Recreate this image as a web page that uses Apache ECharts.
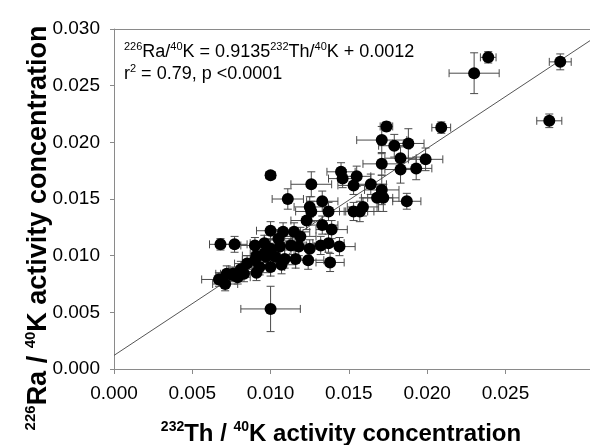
<!DOCTYPE html>
<html>
<head>
<meta charset="utf-8">
<script src="https://cdn.jsdelivr.net/npm/echarts@6/dist/echarts.min.js"></script>
<style>
html,body{margin:0;padding:0;background:#fff;}
#c{width:590px;height:445px;}
</style>
</head>
<body>
<div id="c"></div>
<script>
// 232Th/40K ratio (x), 226Ra/40K ratio (y) and their uncertainties
const thK = [0.0239,0.0230,0.0285,0.0278,0.0209,0.0174,0.0171,0.0179,0.0188,0.0183,0.0199,0.0171,0.0183,0.0193,0.0187,0.0100,0.0111,0.0126,0.0133,0.0125,0.0126,0.0137,0.0123,0.0145,0.0146,0.0155,0.0153,0.0164,0.0171,0.0168,0.0172,0.0153,0.0157,0.0159,0.0133,0.0139,
  0.0068,0.0077,0.0067,0.0071,0.0072,0.0076,0.0079,0.0100,
  0.0083,0.0085,0.0091,0.0090,0.0096,0.0100,0.0107,0.0100,0.0108,0.0115,0.0119,0.0105,0.0096,0.0090,0.0100,0.0106,0.0113,0.0118,0.0125,0.0132,0.0137,0.0144,0.0091,0.0097,0.0103,0.0109,0.0116,0.0124,0.0138,0.0093,0.0081,0.0076];
const raK = [0.0275,0.0261,0.0271,0.0219,0.0213,0.0214,0.0202,0.0197,0.0199,0.0186,0.0185,0.0181,0.0176,0.0177,0.0148,0.0171,0.0150,0.0163,0.0148,0.0143,0.0139,0.0139,0.0131,0.0174,0.0168,0.0170,0.0162,0.0163,0.0158,0.0151,0.0151,0.0139,0.0139,0.0143,0.0127,0.0123,
  0.0110,0.0110,0.0079,0.0075,0.0084,0.0084,0.0081,0.0053,
  0.0084,0.0093,0.0085,0.0096,0.0102,0.0090,0.0092,0.0122,0.0121,0.0121,0.0117,0.0115,0.0111,0.0109,0.0106,0.0108,0.0109,0.0108,0.0106,0.0109,0.0111,0.0108,0.0100,0.0099,0.0099,0.0097,0.0097,0.0096,0.0094,0.0090,0.0088,0.0083];
const thErr = [0.0005,0.0016,0.0007,0.0008,0.0006,0.0004,0.0016,0.0010,0.0010,0.0010,0.0011,0.0012,0.0010,0.0010,0.0009,0.0003,0.0010,0.0013,0.0010,0.0010,0.0010,0.0010,0.0010,0.0009,0.0009,0.0009,0.0010,0.0010,0.0011,0.0010,0.0010,0.0009,0.0009,0.0010,0.0010,0.0010,
  0.0007,0.0008,0.0011,0.0008,0.0007,0.0008,0.0008,0.0019,
  0.0008,0.0008,0.0009,0.0008,0.0009,0.0009,0.0009,0.0009,0.0009,0.0010,0.0010,0.0009,0.0009,0.0009,0.0009,0.0009,0.0010,0.0010,0.0010,0.0010,0.0010,0.0010,0.0009,0.0009,0.0009,0.0009,0.0010,0.0010,0.0009,0.0009,0.0008,0.0008];
const raErr = [0.0005,0.0018,0.0007,0.0006,0.0005,0.0004,0.0012,0.0010,0.0013,0.0010,0.0010,0.0010,0.0012,0.0010,0.0007,0.0003,0.0009,0.0011,0.0009,0.0009,0.0009,0.0008,0.0008,0.0008,0.0008,0.0009,0.0008,0.0009,0.0013,0.0012,0.0012,0.0008,0.0009,0.0008,0.0008,0.0008,
  0.0005,0.0007,0.0006,0.0006,0.0007,0.0006,0.0006,0.0020,
  0.0007,0.0007,0.0007,0.0007,0.0008,0.0008,0.0008,0.0008,0.0008,0.0008,0.0008,0.0008,0.0007,0.0007,0.0008,0.0008,0.0008,0.0008,0.0008,0.0008,0.0008,0.0008,0.0007,0.0007,0.0008,0.0008,0.0008,0.0008,0.0008,0.0007,0.0007,0.0006];
const xTicks = [0.000,0.005,0.010,0.015,0.020,0.025];
const yTicks = [0.000,0.005,0.010,0.015,0.020,0.025,0.030];
const fitSlope = 0.9135;
const fitIntercept = 0.0012;
const xMin = 0, xMax = 0.0304, yMin = 0, yMax = 0.030;

const pts = thK.map((x,i)=>[x, raK[i]]);
const errRows = thK.map((x,i)=>[x, raK[i], thErr[i], raErr[i]]);
const fitLine = [[xMin, fitSlope*xMin+fitIntercept],[xMax, fitSlope*xMax+fitIntercept]];

const FONT = '"Liberation Sans", Arial, sans-serif';
const chart = echarts.init(document.getElementById('c'));
const axisGray = '#8a8a8a';
const barColor = '#4a4a4a';
const cap = 4;

chart.setOption({
  animation: false,
  backgroundColor: '#fff',
  grid: {left: 114, right: 0, top: 29, bottom: 76},
  xAxis: [{
    type: 'value', min: xMin, max: xMax, position: 'bottom',
    axisLine: {show: true, onZero: false, lineStyle: {color: axisGray, width: 1}},
    axisTick: {show: true, length: 5, inside: false, customValues: xTicks, lineStyle: {color: axisGray}},
    axisLabel: {customValues: xTicks, formatter: v => v.toFixed(3), fontSize: 19, color: '#000', margin: 15, fontFamily: FONT},
    splitLine: {show: false}
  },{
    type: 'value', min: xMin, max: xMax, position: 'top',
    axisLine: {show: true, onZero: false, lineStyle: {color: axisGray, width: 1}},
    axisTick: {show: false}, axisLabel: {show: false}, splitLine: {show: false}
  }],
  yAxis: {
    type: 'value', min: yMin, max: yMax,
    axisLine: {show: true, onZero: false, lineStyle: {color: axisGray, width: 1}},
    axisTick: {show: true, length: 4, customValues: yTicks, lineStyle: {color: axisGray}},
    axisLabel: {customValues: yTicks, formatter: v => v.toFixed(3), fontSize: 19, color: '#000', margin: 14, fontFamily: FONT},
    splitLine: {show: false}
  },
  series: [{
    type: 'line', data: fitLine, showSymbol: false, symbol: 'none',
    lineStyle: {color: '#555', width: 1}, z: 1, silent: true
  },{
    type: 'custom', data: errRows, z: 2, silent: true,
    renderItem: function(params, api){
      const x = api.value(0), y = api.value(1), xe = api.value(2), ye = api.value(3);
      const l = api.coord([x-xe, y]), r = api.coord([x+xe, y]);
      const t = api.coord([x, y+ye]), b = api.coord([x, y-ye]);
      const st = {stroke: barColor, lineWidth: 1};
      const ln = (x1,y1,x2,y2)=>({type:'line', shape:{x1,y1,x2,y2}, style: st});
      return {type: 'group', children: [
        ln(l[0], l[1], r[0], r[1]),
        ln(l[0], l[1]-cap, l[0], l[1]+cap),
        ln(r[0], r[1]-cap, r[0], r[1]+cap),
        ln(t[0], t[1], b[0], b[1]),
        ln(t[0]-cap, t[1], t[0]+cap, t[1]),
        ln(b[0]-cap, b[1], b[0]+cap, b[1])
      ]};
    }
  },{
    type: 'scatter', data: pts, symbol: 'circle', symbolSize: 12, z: 3,
    itemStyle: {color: '#000', opacity: 1}
  }],
  graphic: [{
    type: 'text', left: 124, top: 41, z: 10,
    style: {
      text: '{s|226}{n|Ra/}{s|40}{n|K = 0.9135}{s|232}{n|Th/}{s|40}{n|K + 0.0012}\n{n|r}{s|2}{n| = 0.79, p <0.0001}',
      fontFamily: FONT, fill: '#000',
      rich: {
        n: {fontSize: 18, lineHeight: 22, fontFamily: FONT, fill: '#000'},
        s: {fontSize: 11, lineHeight: 12, verticalAlign: 'top', fontFamily: FONT, fill: '#000'}
      }
    }
  },{
    type: 'text', x: 341, y: 434, z: 10,
    style: {
      text: '{s|232}{n|Th / }{s|40}{n|K activity concentration}',
      align: 'center', verticalAlign: 'middle', fontFamily: FONT, fill: '#000',
      rich: {
        n: {fontSize: 24, fontWeight: 'bold', lineHeight: 28, fontFamily: FONT, fill: '#000'},
        s: {fontSize: 14, fontWeight: 'bold', lineHeight: 14, verticalAlign: 'top', fontFamily: FONT, fill: '#000'}
      }
    }
  },{
    type: 'text', x: 39, y: 228, rotation: Math.PI/2, z: 10,
    style: {
      text: '{s|226}{n|Ra / }{s|40}{n|K activity concentration}',
      align: 'center', verticalAlign: 'middle', fontFamily: FONT, fill: '#000',
      rich: {
        n: {fontSize: 27, fontWeight: 'bold', lineHeight: 31, fontFamily: FONT, fill: '#000'},
        s: {fontSize: 15, fontWeight: 'bold', lineHeight: 15, verticalAlign: 'top', fontFamily: FONT, fill: '#000'}
      }
    }
  }]
});
</script>
</body>
</html>
